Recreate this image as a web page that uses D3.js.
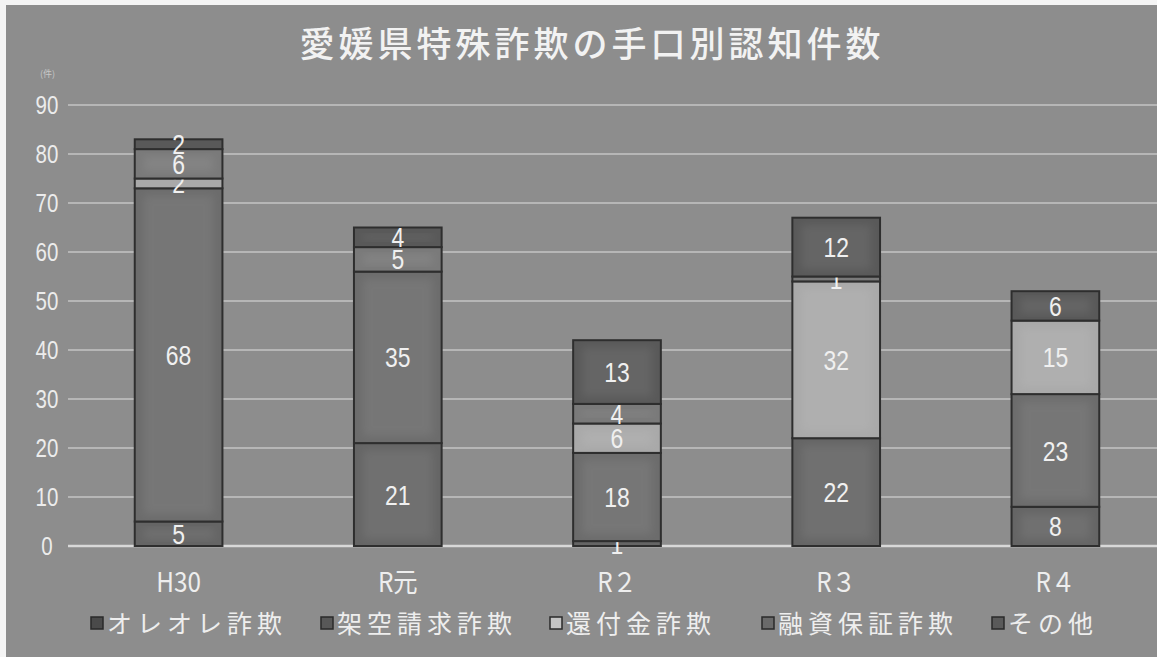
<html lang="ja">
<head>
<meta charset="UTF-8" />
<title>愛媛県特殊詐欺の手口別認知件数</title>
<style>
  body { margin: 0; background: #f4f4f4; }
  text { font-family: "Liberation Sans", "Noto Sans CJK JP", sans-serif; }
  .jp { font-family: "Noto Sans CJK JP", sans-serif; }
</style>
</head>
<body>
<script src="https://cdn.jsdelivr.net/npm/d3@7"></script>
<script>
  const years = ["H30", "R元", "R２", "R３", "R４"];
  const series = ["オレオレ詐欺", "架空請求詐欺", "還付金詐欺", "融資保証詐欺", "その他"];
  const oreore = [5, 21, 1, 22, 8];
  const kakuu = [68, 35, 18, 0, 23];
  const kanpu = [2, 0, 6, 32, 15];
  const yushi = [6, 5, 4, 1, 0];
  const sonota = [2, 4, 13, 12, 6];
  const yTicks = [0, 10, 20, 30, 40, 50, 60, 70, 80, 90];
  const colors = ["#656565", "#6c6c6c", "#a9a9a9", "#7a7a7a", "#595959"];
  const swatch = ["#4a4a4a", "#585858", "#c4c4c4", "#6a6a6a", "#5a5a5a"];

  const width = 1157, height = 657;
  const rows = years.map((y, i) => ({
    year: y,
    [series[0]]: oreore[i], [series[1]]: kakuu[i], [series[2]]: kanpu[i],
    [series[3]]: yushi[i], [series[4]]: sonota[i]
  }));

  const svg = d3.select("body").append("svg")
    .attr("width", width).attr("height", height);

  const defs = svg.append("defs");
  defs.append("filter").attr("id", "soft")
    .attr("x", "-20%").attr("y", "-20%").attr("width", "140%").attr("height", "140%")
    .append("feGaussianBlur").attr("stdDeviation", 4);

  // chart area
  svg.append("rect")
    .attr("x", 6).attr("y", 5).attr("width", width - 6).attr("height", height - 5)
    .attr("fill", "#8d8d8d");

  const x = d3.scaleBand().domain(years).range([69, 1165]).paddingInner(0.6).paddingOuter(0.3);
  const y = d3.scaleLinear().domain([0, 90]).range([546, 105]);

  // grid
  svg.append("g").selectAll("line").data(yTicks).join("line")
    .attr("x1", 68).attr("x2", width)
    .attr("y1", d => y(d)).attr("y2", d => y(d))
    .attr("stroke", d => d === 0 ? "#d8d8d8" : "#c4c4c4")
    .attr("stroke-width", d => d === 0 ? 2.5 : 1.5);

  // y axis labels (narrow look via horizontal squeeze)
  svg.append("g").selectAll("text").data(yTicks).join("text")
    .attr("transform", d => `translate(47,${y(d)}) scale(0.82,1)`)
    .attr("dy", "0.36em")
    .attr("text-anchor", "middle")
    .attr("fill", "#ececec").attr("font-size", 25)
    .text(d => d);

  svg.append("text").attr("x", 40).attr("y", 77)
    .attr("fill", "#c8c8c8").attr("font-size", 9).attr("class", "jp")
    .text("(件)");

  // bars
  const stacked = d3.stack().keys(series)(rows);
  const groups = svg.append("g").selectAll("g").data(stacked).join("g");

  groups.each(function (s, si) {
    const g = d3.select(this);
    const segs = s.filter(d => d[1] - d[0] > 0);
    g.selectAll("rect.seg").data(segs).join("rect")
      .attr("class", "seg")
      .attr("x", d => x(d.data.year))
      .attr("y", d => y(d[1]))
      .attr("width", x.bandwidth())
      .attr("height", d => y(d[0]) - y(d[1]))
      .attr("fill", colors[si])
      .attr("stroke", "#2e2e2e").attr("stroke-width", 2);
    g.selectAll("rect.glow").data(segs.filter(d => y(d[0]) - y(d[1]) > 16)).join("rect")
      .attr("class", "glow")
      .attr("x", d => x(d.data.year) + 9)
      .attr("y", d => y(d[1]) + 7)
      .attr("width", x.bandwidth() - 18)
      .attr("height", d => y(d[0]) - y(d[1]) - 14)
      .attr("fill", "#ffffff").attr("opacity", 0.07)
      .attr("filter", "url(#soft)");
  });

  // value labels
  groups.each(function (s) {
    d3.select(this).selectAll("text").data(s.filter(d => d[1] - d[0] > 0)).join("text")
      .attr("transform", d =>
        `translate(${x(d.data.year) + x.bandwidth() / 2},${(y(d[0]) + y(d[1])) / 2}) scale(0.82,1)`)
      .attr("dy", "0.36em")
      .attr("text-anchor", "middle")
      .attr("fill", "#f0f0f0").attr("font-size", 28)
      .text(d => d[1] - d[0]);
  });

  // x labels
  svg.append("g").selectAll("text").data(years).join("text")
    .attr("transform", d => `translate(${x(d) + x.bandwidth() / 2},592) scale(0.9,1)`)
    .attr("text-anchor", "middle")
    .attr("fill", "#eeeeee").attr("font-size", 27)
    .attr("class", "jp")
    .text(d => d);

  // title
  svg.append("text").attr("x", 592).attr("y", 57)
    .attr("text-anchor", "middle").attr("class", "jp")
    .attr("fill", "#f2f2f2").attr("font-size", 35).attr("font-weight", 500)
    .attr("letter-spacing", 4)
    .text("愛媛県特殊詐欺の手口別認知件数");

  // legend
  const legendX = [91, 321, 550, 762, 992];
  const leg = svg.append("g").selectAll("g").data(series).join("g")
    .attr("transform", (d, i) => `translate(${legendX[i]},624)`);
  leg.append("rect").attr("x", 0).attr("y", -7).attr("width", 12).attr("height", 12)
    .attr("fill", (d, i) => swatch[i]).attr("stroke", "#2a2a2a").attr("stroke-width", 1.5);
  leg.append("text").attr("x", 16).attr("y", 0).attr("dy", "0.36em")
    .attr("class", "jp").attr("fill", "#eeeeee").attr("font-size", 25)
    .attr("letter-spacing", 5)
    .text(d => d);
</script>
</body>
</html>
